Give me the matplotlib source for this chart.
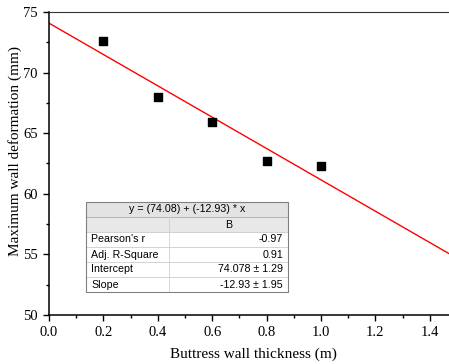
import matplotlib.pyplot as plt
import numpy as np
from matplotlib.patches import Rectangle

# Deformation vs. buttress wall thickness
thickness = [0.2, 0.4, 0.6, 0.8, 1.0]
deformation = [72.6, 68.0, 65.9, 62.7, 62.3]

# Linear fit results
intercept = 74.08
slope = -12.93
fit_rows = ["Pearson's r", "Adj. R-Square", "Intercept", "Slope"]
fit_vals = ["-0.97", "0.91", "74.078 \u00b1 1.29", "-12.93 \u00b1 1.95"]

W, H = 449, 364
fig = plt.figure(figsize=(W / 100, H / 100), dpi=100)
# axes right edge runs past the figure, so the right side is cut off
ax = fig.add_axes([49 / W, 1 - 315 / H, 408 / W, 303 / H])

xs = np.array([0, 1.5])
ax.plot(xs, intercept + slope * xs, color='red', lw=1.0, zorder=2)
ax.scatter(thickness, deformation, marker='s', s=26, color='black', zorder=3)

ax.set_xlim(0, 1.5)
ax.set_ylim(50, 75)
ax.set_xticks(np.arange(0, 1.41, 0.2))
ax.set_xticks(np.arange(0.1, 1.5, 0.2), minor=True)
ax.set_yticks(np.arange(50, 76, 5))
ax.set_yticks(np.arange(52.5, 75, 5), minor=True)
ax.tick_params(which='major', direction='out', length=4, width=1, pad=4,
               labelsize=10.5, labelfontfamily='Liberation Serif')
ax.tick_params(which='minor', direction='out', length=2.5, width=1)
for s in ['left', 'bottom']:
    ax.spines[s].set_linewidth(1.1)
ax.spines['top'].set_color('#333333')
ax.spines['right'].set_visible(False)

fig.text(253 / W, 1 - 354 / H, 'Buttress wall thickness (m)',
         family='Liberation Serif', fontsize=11, ha='center', va='center')
fig.text(15 / W, 1 - 151 / H, 'Maximum wall deformation (mm)', rotation=90,
         family='Liberation Serif', fontsize=11, ha='center', va='center')

# Fit summary table drawn in pixel coordinates
def px(x, y):
    return x / W, 1 - y / H

left, right, split = 86, 288, 169
row_h = 15
top = 202
tr = fig.transFigure
sans = 'Liberation Sans'
fs = 7.7

# title row and header row
for i, face in enumerate(['#e3e3e3', '#e8e8e8']):
    y0 = top + (i + 1) * row_h
    fig.patches.append(Rectangle(px(left, y0), (right - left) / W, row_h / H,
                                 transform=tr, facecolor=face,
                                 edgecolor='#b0b0b0', lw=0.6, zorder=5))
fig.text(*px((left + right) / 2, top + row_h / 2),
         'y = (%.2f) + (%.2f) * x' % (intercept, slope),
         family=sans, fontsize=fs, ha='center', va='center', zorder=6)
fig.text(*px((split + right) / 2, top + 1.5 * row_h), 'B',
         family=sans, fontsize=fs, ha='center', va='center', zorder=6)

for i, (name, val) in enumerate(zip(fit_rows, fit_vals)):
    y0 = top + (i + 3) * row_h
    fig.patches.append(Rectangle(px(left, y0), (right - left) / W, row_h / H,
                                 transform=tr, facecolor='white',
                                 edgecolor='#d0d0d0', lw=0.6, zorder=5))
    fig.text(*px(left + 5, y0 - row_h / 2), name, family=sans, fontsize=fs,
             ha='left', va='center', zorder=6)
    fig.text(*px(right - 5, y0 - row_h / 2), val, family=sans, fontsize=fs,
             ha='right', va='center', zorder=6)

fig.lines.append(plt.Line2D([split / W, split / W],
                            [1 - (top + row_h) / H, 1 - (top + 6 * row_h) / H],
                            transform=tr, color='#d0d0d0', lw=0.6, zorder=6))
fig.patches.append(Rectangle(px(left, top + 6 * row_h), (right - left) / W,
                             6 * row_h / H, transform=tr, facecolor='none',
                             edgecolor='#808080', lw=0.8, zorder=7))

fig.savefig('out.png', dpi=100)
